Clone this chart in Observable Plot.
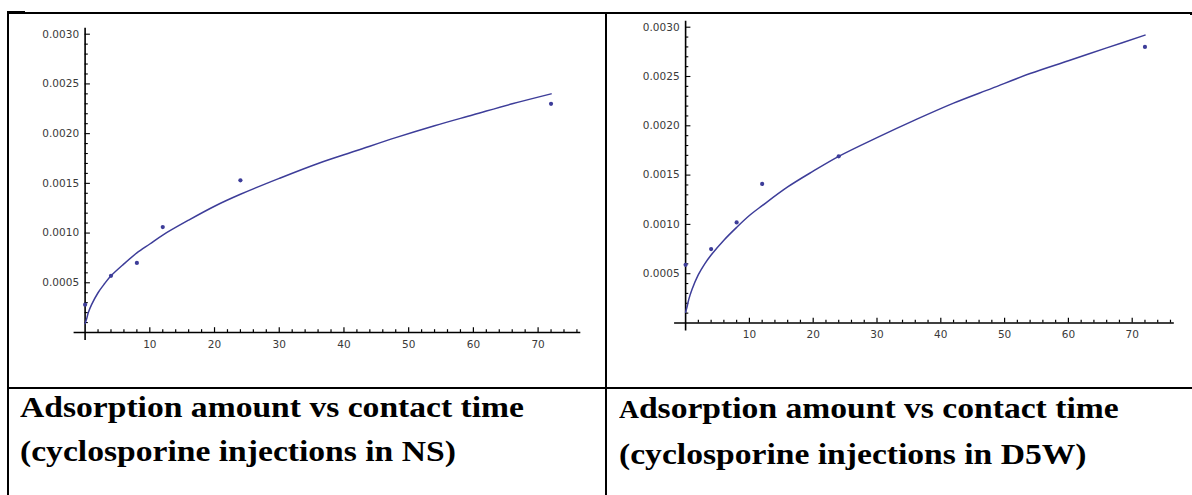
<!DOCTYPE html>
<html><head><meta charset="utf-8">
<script src="https://cdn.jsdelivr.net/npm/d3@7"></script>
<script src="https://cdn.jsdelivr.net/npm/@observablehq/plot@0.6"></script>
<style>
html,body{margin:0;padding:0;background:#fff;}
#page{position:relative;width:1192px;height:495px;overflow:hidden;background:#fff;}
.line{position:absolute;background:#000;}
.chart{position:absolute;top:0;}
.cap{position:absolute;font-family:"Liberation Serif","Times New Roman",serif;font-weight:bold;font-size:30px;line-height:44px;transform-origin:0 0;transform:scaleX(1.12);white-space:nowrap;color:#000;}
</style></head>
<body>
<div id="page">
  <div class="line" style="left:7px;top:12px;width:1185px;height:1.5px"></div>
  <div class="line" style="left:7px;top:11px;width:18px;height:3px"></div>
  <div class="line" style="left:6.5px;top:12px;width:2px;height:483px"></div>
  <div class="line" style="left:605px;top:12px;width:2px;height:483px"></div>
  <div class="line" style="left:1190px;top:12px;width:1.5px;height:3px"></div>
  <div class="line" style="left:7px;top:387px;width:1185px;height:2px"></div>
  <div id="left" class="chart" style="left:0px"></div>
  <div id="right" class="chart" style="left:600px"></div>
  <div id="capL" class="cap" style="left:20px;top:385px"></div>
  <div id="capR" class="cap" style="left:619px;top:386px"></div>
</div>
<script>
// ---- data ----
const times = [0, 4, 8, 12, 24, 72];
const nsAmount = [0.00028, 0.00057, 0.0007, 0.00106, 0.00153, 0.0023];
const d5wAmount = [0.00059, 0.00075, 0.00102, 0.00141, 0.00169, 0.0028];

// fitted curves
const fitTimes = [0, 0.25, 0.5, 1, 2, 3, 4, 6, 8, 10, 12, 16, 20, 24, 30, 36, 42, 48, 54, 60, 66, 72];
const nsFit = [0.00009, 0.00014, 0.0002, 0.00028, 0.0004, 0.00049, 0.00057, 0.00069, 0.0008, 0.00089, 0.00098, 0.00113, 0.00127, 0.00139, 0.00155, 0.0017, 0.00183, 0.00196, 0.00208, 0.00219, 0.0023, 0.0024];
const d5wFit = [0.00011, 0.00017, 0.00024, 0.00034, 0.00049, 0.0006, 0.00069, 0.00084, 0.00097, 0.00109, 0.00119, 0.00138, 0.00154, 0.00169, 0.00188, 0.00206, 0.00223, 0.00238, 0.00253, 0.00266, 0.00279, 0.00292];

// axes
const xMajorTicks = [10, 20, 30, 40, 50, 60, 70];
const xTickLabels = ["10", "20", "30", "40", "50", "60", "70"];
const xMinorTicks = [2, 4, 6, 8, 12, 14, 16, 18, 22, 24, 26, 28, 32, 34, 36, 38, 42, 44, 46, 48, 52, 54, 56, 58, 62, 64, 66, 68, 72, 74, 76];
const yMajorTicks = [0.0005, 0.001, 0.0015, 0.002, 0.0025, 0.003];
const yTickLabels = ["0.0005", "0.0010", "0.0015", "0.0020", "0.0025", "0.0030"];
const yMinorTicks = [0.0001, 0.0002, 0.0003, 0.0004, 0.0006, 0.0007, 0.0008, 0.0009, 0.0011, 0.0012, 0.0013, 0.0014, 0.0016, 0.0017, 0.0018, 0.0019, 0.0021, 0.0022, 0.0023, 0.0024, 0.0026, 0.0027, 0.0028, 0.0029];
const xAxisMax = 76.6;
const yAxisMax = 0.00306;

const captionLine1 = "Adsorption amount vs contact time";
const captionNS = "(cyclosporine injections in NS)";
const captionD5W = "(cyclosporine injections in D5W)";

const curveColor = "#3d3d99";

function makeChart(amount, fit, o) {
  const xDomain = [0, 70], yDomain = [0, 0.003];
  const kx = (o.width - o.marginLeft - o.marginRight) / (xDomain[1] - xDomain[0]);
  const ky = (o.height - o.marginTop - o.marginBottom) / (yDomain[1] - yDomain[0]);
  const pts = times.map((t, i) => ({t, v: amount[i]}));
  const curve = fitTimes.map((t, i) => ({t, v: fit[i]}));
  const yLab = yMajorTicks.map((v, i) => ({v, s: yTickLabels[i]}));
  const xLab = xMajorTicks.map((t, i) => ({t, s: xTickLabels[i]}));
  return Plot.plot({
    width: o.width, height: o.height,
    marginLeft: o.marginLeft, marginRight: o.marginRight,
    marginTop: o.marginTop, marginBottom: o.marginBottom,
    x: {domain: xDomain, axis: null},
    y: {domain: yDomain, axis: null},
    style: {background: "transparent", overflow: "visible"},
    marks: [
      Plot.ruleY([0], {x1: -11 / kx, x2: xAxisMax, stroke: "#000", strokeWidth: 1.4}),
      Plot.ruleX([0], {y1: -8 / ky, y2: yAxisMax, stroke: "#000", strokeWidth: 1.6}),
      Plot.ruleX(xMinorTicks, {x: d => d, y1: 0, y2: 2.8 / ky, stroke: "#000", strokeWidth: 1.2}),
      Plot.ruleX(xMajorTicks, {x: d => d, y1: 0, y2: 4.8 / ky, stroke: "#000", strokeWidth: 1.2}),
      Plot.ruleY(yMinorTicks, {y: d => d, x1: 0, x2: 3.2 / kx, stroke: "#000", strokeWidth: 1.1}),
      Plot.ruleY(yMajorTicks, {y: d => d, x1: 0, x2: 5.3 / kx, stroke: "#000", strokeWidth: 1.1}),
      Plot.text(xLab, {x: "t", y: 0, text: "s", dy: 12, fontSize: 10.5, fill: "#3a3a3a", fontFamily: "DejaVu Sans"}),
      Plot.text(yLab, {x: 0, y: "v", text: "s", dx: -6, textAnchor: "end", fontSize: 10.5, fill: "#3a3a3a", fontFamily: "DejaVu Sans"}),
      Plot.line(curve, {x: "t", y: "v", stroke: curveColor, strokeWidth: 1.5, curve: "catmull-rom"}),
      Plot.dot(pts, {x: "t", y: "v", r: 2.1, fill: curveColor, stroke: "none"})
    ]
  });
}

document.getElementById("left").append(makeChart(nsAmount, nsFit, {
  width: 600, height: 380, marginLeft: 84.6, marginRight: 62.4, marginTop: 33.7, marginBottom: 48
}));
document.getElementById("right").append(makeChart(d5wAmount, d5wFit, {
  width: 592, height: 380, marginLeft: 85.1, marginRight: 60.3, marginTop: 26.7, marginBottom: 57.5
}));

document.getElementById("capL").innerHTML = captionLine1 + "<br>" + captionNS;
document.getElementById("capR").innerHTML = '<span style="font-size:0.82em">' + captionLine1[0] + '</span>' + captionLine1.slice(1) + "<br>" + captionD5W;
</script>
</body></html>
